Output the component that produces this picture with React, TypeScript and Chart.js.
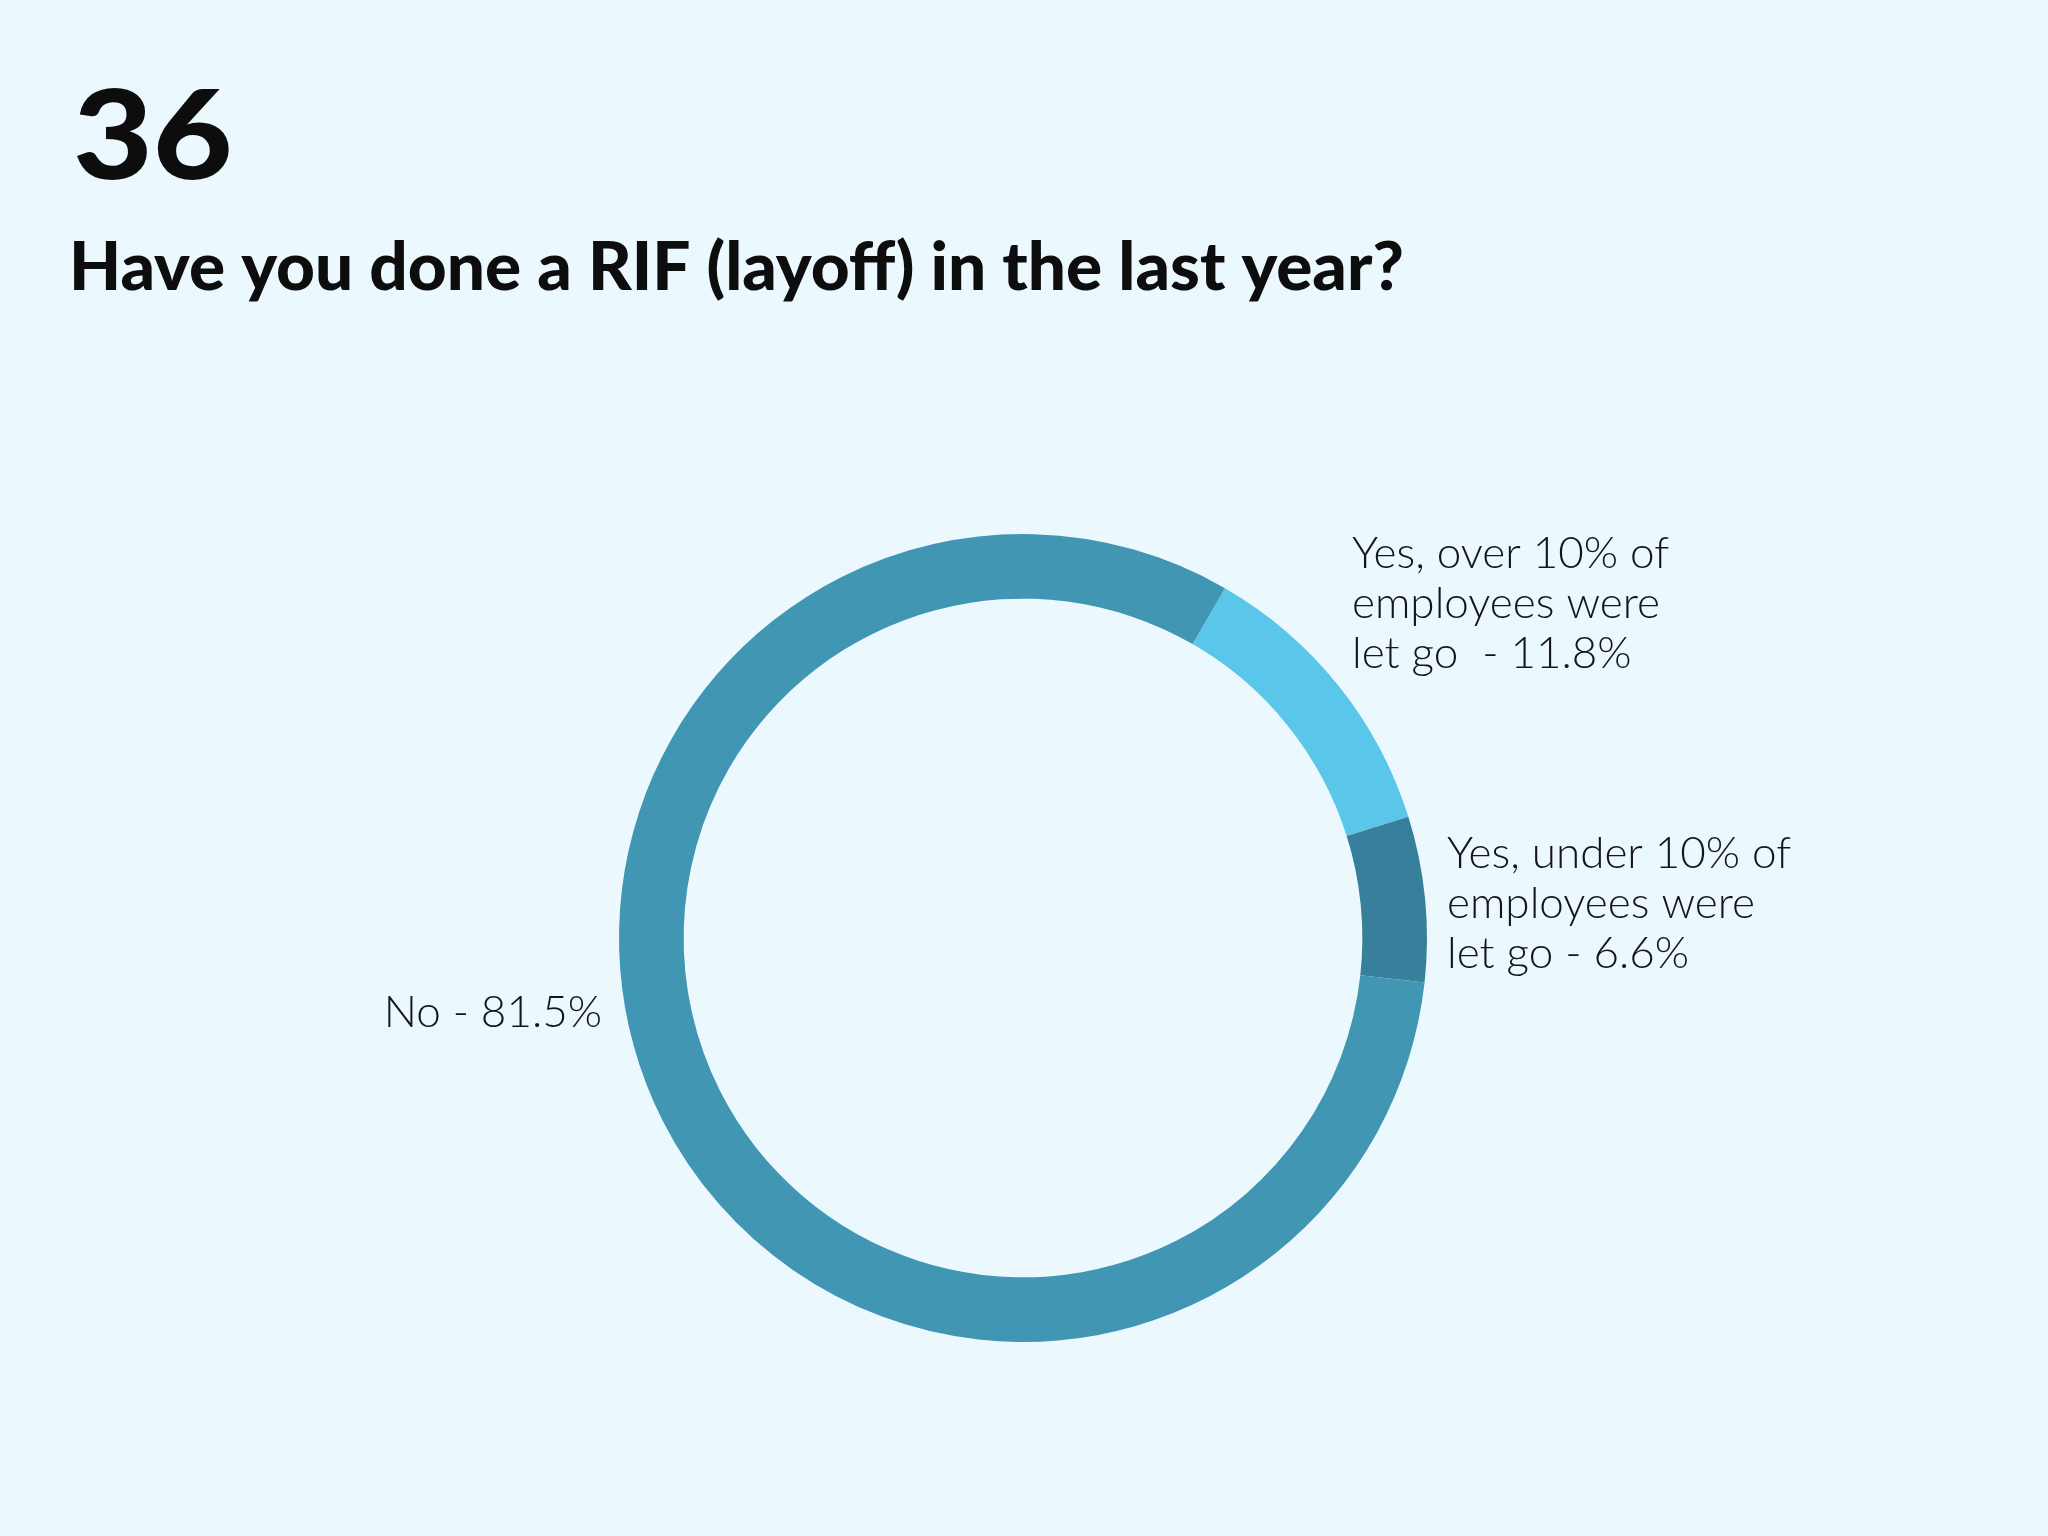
import React, { useEffect, useRef } from "react";
import { Chart, registerables } from "chart.js";

Chart.register(...registerables);

const categories = [
  "Yes, over 10% of employees were let go",
  "Yes, under 10% of employees were let go",
  "No",
];
const values = [11.8, 6.6, 81.5];
const colors = ["#5AC6EA", "#377F9A", "#4196B3"];
const labelLines = [
  ["Yes, over 10% of", "employees were", "let go  - 11.8%"],
  ["Yes, under 10% of", "employees were", "let go - 6.6%"],
  ["No - 81.5%"],
];
const chartNumber = "36";
const question = "Have you done a RIF (layoff) in the last year?";

const W = 2048;
const H = 1536;

const textPlugin = {
  id: "texts",
  afterDraw(chart: any) {
    const ctx = chart.ctx as CanvasRenderingContext2D;
    ctx.save();
    ctx.fillStyle = "#0d0d0d";
    ctx.textBaseline = "alphabetic";
    ctx.textAlign = "left";
    // number (slightly widened to match the reference's broader digits)
    ctx.save();
    ctx.translate(73, 179);
    ctx.scale(1.11, 1);
    ctx.font = "900 124px Lato";
    ctx.fillText(chartNumber, 0, 0);
    ctx.restore();
    // question, fitted to width
    let fs = 64;
    ctx.font = `900 ${fs}px Lato`;
    const w = ctx.measureText(question).width;
    fs = fs * 1335 / w;
    ctx.font = `900 ${fs}px Lato`;
    ctx.fillText(question, 69, 290);

    // labels
    ctx.fillStyle = "#151515";
    ctx.font = "300 44px Lato";
    const pos = [
      { x: 1352, y: 568, align: "left" },
      { x: 1447, y: 868, align: "left" },
      { x: 602, y: 1027, align: "right" },
    ];
    labelLines.forEach((lines, i) => {
      const p = pos[i];
      ctx.textAlign = p.align as CanvasTextAlign;
      lines.forEach((ln, j) => {
        ctx.fillText(ln, p.x, p.y + j * 50);
      });
    });
    ctx.restore();
  },
};

export default function App() {
  const ref = useRef<HTMLCanvasElement>(null);
  useEffect(() => {
    if (!ref.current) return;
    const chart = new Chart(ref.current, {
      type: "doughnut",
      data: {
        labels: categories,
        datasets: [
          {
            data: values,
            backgroundColor: colors,
            borderWidth: 0,
          },
        ],
      },
      options: {
        responsive: false,
        animation: false,
        rotation: 30,
        cutout: "84%",
        layout: { padding: { left: 619, right: 621, top: 534, bottom: 194 } },
        plugins: {
          legend: { display: false },
          tooltip: { enabled: false },
        },
      },
      plugins: [textPlugin],
    });
    return () => chart.destroy();
  }, []);
  return (
    <div
      style={{
        position: "absolute",
        left: 0,
        top: 0,
        width: W,
        height: H,
        background: "#EBF8FE",
        overflow: "hidden",
      }}
    >
      <canvas ref={ref} width={W} height={H} style={{ width: W, height: H, display: "block" }} />
    </div>
  );
}
